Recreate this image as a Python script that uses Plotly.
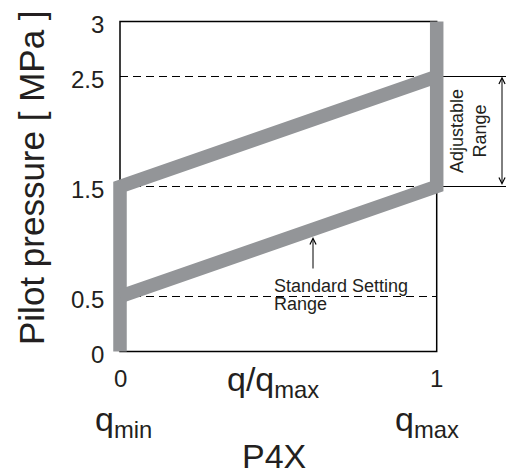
import plotly.graph_objects as go

# ---- data ----
q_norm = [0, 1]            # q/qmax at qmin and qmax
p_lower = [0.5, 1.5]       # lower boundary of setting range [MPa]
p_upper = [1.5, 2.5]       # upper boundary of setting range [MPa]
p_top = 3.0                # top of the vertical bar at qmax
p_bottom = 0.0
ref_levels = [2.5, 1.5, 0.5]
y_ticks = [3, 2.5, 1.5, 0.5, 0]
y_tick_labels = ["3", "2.5", "1.5", "0.5", "0"]
x_ticks = [0, 1]
x_tick_labels = ["0", "1"]
adjustable = [1.5, 2.5]

GRAY = "#939598"
TXT = "#231f20"
FONT = "Liberation Sans, Arial, Helvetica, sans-serif"

# pixel mapping helpers (figure 506x473, no margins)
PX_PER_X = 316.7
X0_PX = 120
PX_PER_Y = 110
Y0_PX = 351.5
W, H = 506, 473
xr = [-X0_PX / PX_PER_X, (W - X0_PX) / PX_PER_X]
yr = [(Y0_PX - H) / PX_PER_Y, Y0_PX / PX_PER_Y]

def px2x(px):
    return (px - X0_PX) / PX_PER_X

def py2y(py):
    return (Y0_PX - py) / PX_PER_Y

fig = go.Figure()

# dashed reference lines
for lv in ref_levels:
    fig.add_trace(go.Scatter(x=[q_norm[0], q_norm[1]], y=[lv, lv], mode="lines",
                             line=dict(color="black", width=1, dash="8px,5px"),
                             hoverinfo="skip", showlegend=False))

# solid extension lines for adjustable range bracket
xb_end = px2x(506)
for lv in adjustable:
    fig.add_trace(go.Scatter(x=[q_norm[1], xb_end], y=[lv, lv], mode="lines",
                             line=dict(color="black", width=1),
                             hoverinfo="skip", showlegend=False))

# gray outline of the range
fig.add_trace(go.Scatter(x=[q_norm[0], q_norm[0], q_norm[1]],
                         y=[p_bottom, p_upper[0], p_upper[1]], mode="lines",
                         line=dict(color=GRAY, width=13.5),
                         hoverinfo="skip", showlegend=False))
fig.add_trace(go.Scatter(x=[q_norm[1], q_norm[1], q_norm[0]],
                         y=[p_top, p_lower[1], p_lower[0]], mode="lines",
                         line=dict(color=GRAY, width=13.5),
                         hoverinfo="skip", showlegend=False))

# frame
fig.add_shape(type="rect", x0=0, x1=1, y0=0, y1=3, xref="x", yref="y",
              line=dict(color="black", width=1.5), layer="below")

ann = []
for v, t in zip(y_ticks, y_tick_labels):
    ann.append(dict(x=px2x(106), y=v, text=t, xanchor="right", yanchor="middle",
                    showarrow=False, yshift=-3, font=dict(size=24, color=TXT, family=FONT)))
for v, t in zip(x_ticks, x_tick_labels):
    ann.append(dict(x=v, y=py2y(378), text=t, xanchor="center", yanchor="middle",
                    showarrow=False, font=dict(size=24, color=TXT, family=FONT)))

ann.append(dict(x=px2x(273), y=py2y(381), text="q/q<sub>max</sub>", showarrow=False,
                xanchor="center", yanchor="middle", font=dict(size=34, color=TXT, family=FONT)))
ann.append(dict(x=px2x(123), y=py2y(421), text="q<sub>min</sub>", showarrow=False,
                xanchor="center", yanchor="middle", font=dict(size=34, color=TXT, family=FONT)))
ann.append(dict(x=px2x(427), y=py2y(421), text="q<sub>max</sub>", showarrow=False,
                xanchor="center", yanchor="middle", font=dict(size=34, color=TXT, family=FONT)))
ann.append(dict(x=px2x(274), y=py2y(456), text="P4X", showarrow=False, height=32,
                xanchor="center", yanchor="middle", font=dict(size=34, color=TXT, family=FONT)))
ann.append(dict(x=px2x(31), y=py2y(178), text="Pilot pressure [ MPa ]", showarrow=False,
                textangle=-90, xanchor="center", yanchor="middle",
                font=dict(size=35, color=TXT, family=FONT)))

ann.append(dict(x=px2x(272), y=py2y(286), text="Standard Setting", showarrow=False,
                xanchor="left", yanchor="middle", font=dict(size=18, color=TXT, family=FONT)))
ann.append(dict(x=px2x(272), y=py2y(304), text="Range", showarrow=False,
                xanchor="left", yanchor="middle", font=dict(size=18, color=TXT, family=FONT)))
ann.append(dict(x=px2x(468), y=py2y(131), text="Adjustable<br>Range", showarrow=False,
                textangle=-90, xanchor="center", yanchor="middle",
                font=dict(size=18, color=TXT, family=FONT)))

# arrow to lower line
xa = px2x(313)
ann.append(dict(x=xa, y=py2y(237), ax=xa, ay=py2y(270), axref="x", ayref="y",
                xref="x", yref="y", text="", showarrow=True, arrowhead=5,
                arrowsize=1.2, arrowwidth=1, arrowcolor="black"))
# double arrow for adjustable range
xd = px2x(502)
ann.append(dict(x=xd, y=adjustable[1], ax=xd, ay=adjustable[0], axref="x", ayref="y",
                xref="x", yref="y", text="", showarrow=True, arrowhead=5, startarrowhead=5,
                arrowside="end+start", arrowsize=1.2, startarrowsize=1.2,
                arrowwidth=1, arrowcolor="black"))

fig.update_layout(
    width=W, height=H,
    margin=dict(l=0, r=0, t=0, b=0),
    paper_bgcolor="white", plot_bgcolor="white",
    xaxis=dict(range=xr, visible=False, fixedrange=True),
    yaxis=dict(range=yr, visible=False, fixedrange=True),
    annotations=ann,
    showlegend=False,
)

fig.write_html("out.html", config={"displayModeBar": False},
               post_script="document.body.style.margin='0';document.body.style.overflow='hidden';")
